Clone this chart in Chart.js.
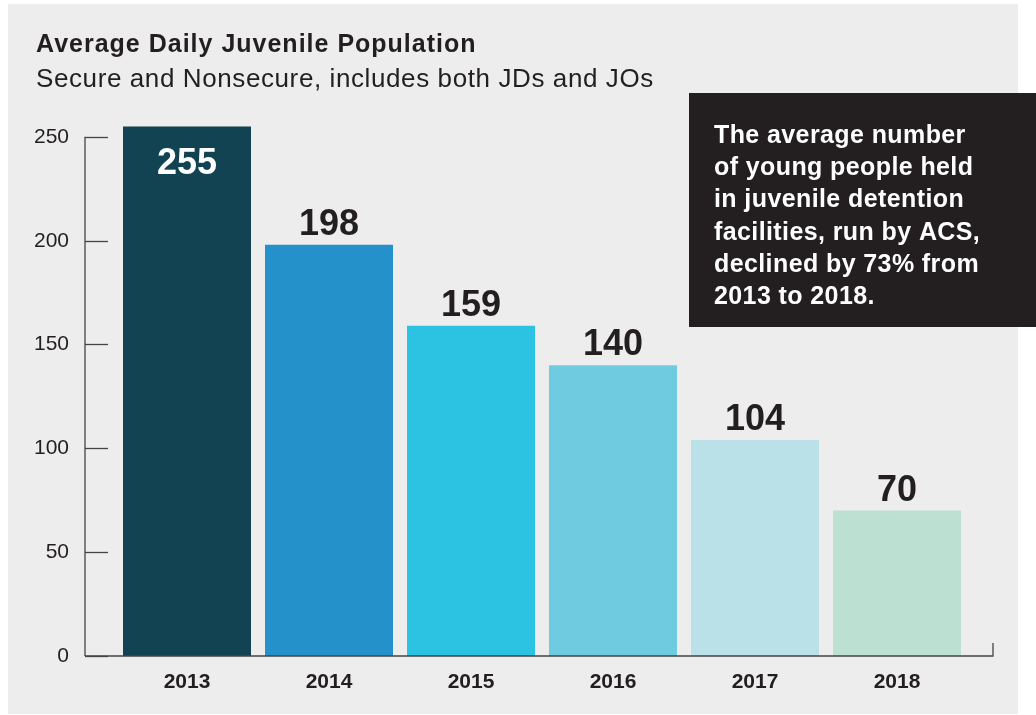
<!DOCTYPE html>
<html>
<head>
<meta charset="utf-8">
<script src="https://cdn.jsdelivr.net/npm/chart.js@4.4.1/dist/chart.umd.min.js"></script>
<style>
  html, body { margin: 0; padding: 0; background: #ffffff; }
  #wrap { position: relative; width: 1036px; height: 715px; }
</style>
</head>
<body>
<div id="wrap"><canvas id="barChart"></canvas></div>
<script>
const years = ['2013', '2014', '2015', '2016', '2017', '2018'];
const population = [255, 198, 159, 140, 104, 70];
const barColors = ['#114352', '#2491cb', '#2cc2e1', '#6fcce0', '#b9e1e7', '#bce1d2'];
const yTicks = [0, 50, 100, 150, 200, 250];

const chartTitle = 'Average Daily Juvenile Population';
const chartSubtitle = 'Secure and Nonsecure, includes both JDs and JOs';
const noteLines = [
    'The average number',
    'of young people held',
    'in juvenile detention',
    'facilities, run by ACS,',
    'declined by 73% from',
    '2013 to 2018.'
];

const FONT = '"Liberation Sans", Arial, Helvetica, sans-serif';

// grey panel behind everything
const panelBg = {
    id: 'panelBg',
    beforeDraw(chart) {
        const c = chart.ctx;
        c.save();
        c.fillStyle = '#ededed';
        c.fillRect(8, 4, 1010, 710);
        c.restore();
    }
};

// axes, ticks, titles and the note box
const decorations = {
    id: 'decorations',
    afterDatasetsDraw(chart) {
        const c = chart.ctx;
        const x = chart.scales.x;
        const y = chart.scales.y;
        const axisX = 85;
        const base = y.getPixelForValue(0);

        c.save();
        // titles
        c.fillStyle = '#231f20';
        c.textBaseline = 'alphabetic';
        c.textAlign = 'left';
        c.font = 'bold 25px ' + FONT;
        c.letterSpacing = '1px';
        c.fillText(chartTitle, 36, 52);
        c.font = '26px ' + FONT;
        c.letterSpacing = '0.6px';
        c.fillText(chartSubtitle, 36, 87);
        c.letterSpacing = '0px';

        // y axis line and inward ticks
        c.strokeStyle = '#444';
        c.lineWidth = 1.3;
        c.beginPath();
        c.moveTo(axisX, base);
        c.lineTo(axisX, y.getPixelForValue(250));
        c.stroke();
        c.font = '21px ' + FONT;
        c.textAlign = 'right';
        c.textBaseline = 'middle';
        c.fillStyle = '#231f20';
        yTicks.forEach(v => {
            const py = Math.round(y.getPixelForValue(v)) + 0.5;
            c.beginPath();
            c.moveTo(axisX, py);
            c.lineTo(axisX + 23, py);
            c.stroke();
            c.fillText(String(v), 69, py);
        });

        // baseline with end tick
        c.beginPath();
        c.moveTo(axisX, base);
        c.lineTo(993, base);
        c.lineTo(993, base - 13);
        c.stroke();

        // category labels
        c.font = 'bold 21px ' + FONT;
        c.textAlign = 'center';
        c.textBaseline = 'middle';
        years.forEach((yr, i) => {
            c.fillText(yr, x.getPixelForValue(i), 682);
        });

        // value labels
        const meta = chart.getDatasetMeta(0);
        c.font = 'bold 36px ' + FONT;
        c.textBaseline = 'alphabetic';
        meta.data.forEach((bar, i) => {
            if (i === 0) {
                c.fillStyle = '#ffffff';
                c.fillText(String(population[i]), bar.x, bar.y + 48);
            } else {
                c.fillStyle = '#231f20';
                c.fillText(String(population[i]), bar.x, bar.y - 10);
            }
        });

        // note box
        c.fillStyle = '#231f20';
        c.fillRect(689, 93, 347, 234);
        c.fillStyle = '#ffffff';
        c.textAlign = 'left';
        c.font = 'bold 25px ' + FONT;
        c.letterSpacing = '0.4px';
        noteLines.forEach((line, i) => {
            c.fillText(line, 714, 143 + i * 32.2);
        });
        c.restore();
    }
};

new Chart(document.getElementById('barChart'), {
    type: 'bar',
    data: {
        labels: years,
        datasets: [{
            data: population,
            backgroundColor: barColors,
            borderWidth: 0,
            barPercentage: 128 / 142,
            categoryPercentage: 1
        }]
    },
    options: {
        responsive: true,
        maintainAspectRatio: false,
        animation: false,
        layout: {
            padding: { left: 116, right: 68, top: 116, bottom: 59 }
        },
        plugins: {
            legend: { display: false },
            tooltip: { enabled: false }
        },
        scales: {
            x: { display: false },
            y: { display: false, min: 0, max: 260 }
        }
    },
    plugins: [panelBg, decorations]
});
</script>
</body>
</html>
